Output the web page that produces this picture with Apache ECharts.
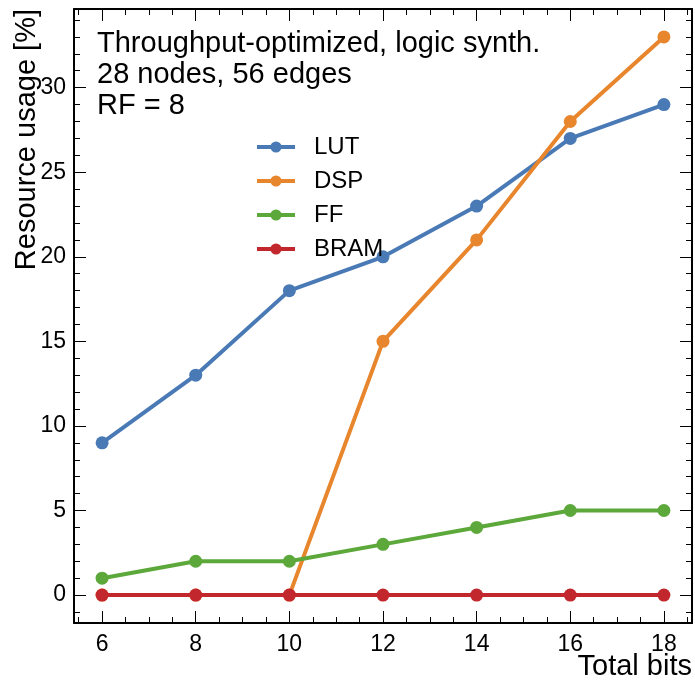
<!DOCTYPE html>
<html><head><meta charset="utf-8">
<script src="https://cdn.jsdelivr.net/npm/echarts@6/dist/echarts.min.js"></script>
<style>html,body{margin:0;padding:0;background:#fff}#c{width:695px;height:681px}</style>
</head><body><div id="c"></div>
<script>
const totalBits = [6, 8, 10, 12, 14, 16, 18];
const lut = [9, 13, 18, 20, 23, 27, 29];
const dsp = [0, 0, 0, 15, 21, 28, 33];
const ff = [1, 2, 2, 3, 4, 5, 5];
const bram = [0, 0, 0, 0, 0, 0, 0];
const xMajor = [6, 8, 10, 12, 14, 16, 18];
const xMinor = [5.5, 6.5, 7, 7.5, 8.5, 9, 9.5, 10.5, 11, 11.5, 12.5, 13, 13.5, 14.5, 15, 15.5, 16.5, 17, 17.5, 18.5];
const yMajor = [0, 5, 10, 15, 20, 25, 30];
const yMinor = [-1, 1, 2, 3, 4, 6, 7, 8, 9, 11, 12, 13, 14, 16, 17, 18, 19, 21, 22, 23, 24, 26, 27, 28, 29, 31, 32, 33, 34];
const annotation = ['Throughput-optimized, logic synth.', '28 nodes, 56 edges', 'RF = 8'];

const FONT = 'Liberation Sans, Arial, Helvetica, sans-serif';
const colors = ['#4a7ab5', '#e8862e', '#5ca83a', '#c3272e'];
const XMIN = 5.4, XMAX = 18.6, YMIN = -1.65, YMAX = 34.65;

function xAx(pos, vals, len, labels, line) {
  return {
    type: 'value', position: pos, min: XMIN, max: XMAX,
    axisLine: { show: line, onZero: false, lineStyle: { color: '#000', width: 2 } },
    axisTick: { show: true, inside: true, length: len, customValues: vals, lineStyle: { color: '#000', width: 1 } },
    axisLabel: labels ? { show: true, customValues: vals, fontSize: 23, color: '#000', fontFamily: FONT, margin: 10 } : { show: false },
    splitLine: { show: false }
  };
}
function yAx(pos, vals, len, labels, line) {
  return {
    type: 'value', position: pos, min: YMIN, max: YMAX,
    axisLine: { show: line, onZero: false, lineStyle: { color: '#000', width: 2 } },
    axisTick: { show: true, inside: true, length: len, customValues: vals, lineStyle: { color: '#000', width: 1 } },
    axisLabel: labels ? { show: true, customValues: vals, fontSize: 23, color: '#000', fontFamily: FONT, margin: 8 } : { show: false },
    splitLine: { show: false }
  };
}

const names = ['LUT', 'DSP', 'FF', 'BRAM'];
const vals = [lut, dsp, ff, bram];
const series = names.map((n, i) => ({
  name: n, type: 'line', xAxisIndex: 0, yAxisIndex: 0,
  data: totalBits.map((x, j) => [x, vals[i][j]]),
  symbol: 'circle', symbolSize: 13, showSymbol: true,
  lineStyle: { color: colors[i], width: 4 },
  itemStyle: { color: colors[i] },
  z: 2 + i, animation: false
}));

const chart = echarts.init(document.getElementById('c'), null, { renderer: 'canvas' });
chart.setOption({
  animation: false,
  grid: { left: 74, right: 3, top: 9, bottom: 58, containLabel: false },
  xAxis: [xAx('bottom', xMajor, 12, true, true), xAx('bottom', xMinor, 6, false, false),
          xAx('top', xMajor, 12, false, true), xAx('top', xMinor, 6, false, false)],
  yAxis: [yAx('left', yMajor, 12, true, true), yAx('left', yMinor, 6, false, false),
          yAx('right', yMajor, 12, false, true), yAx('right', yMinor, 6, false, false)],
  legend: {
    data: names, orient: 'vertical', left: 250, top: 130,
    itemWidth: 38, itemHeight: 14, itemGap: 10,
    lineStyle: { width: 4 },
    textStyle: { fontSize: 24, color: '#000', fontFamily: FONT, lineHeight: 24, padding: [0, 0, 0, 14] }
  },
  graphic: [
    { type: 'text', left: 97, top: 28, style: { text: annotation.join('\n'), font: '29px ' + FONT, lineHeight: 31, fill: '#000' } },
    { type: 'text', x: 27, y: 9, rotation: Math.PI / 2, style: { text: 'Resource usage [%]', font: '29px ' + FONT, fill: '#000', align: 'right', verticalAlign: 'middle' } },
    { type: 'text', x: 692, y: 667, style: { text: 'Total bits', font: '29px ' + FONT, fill: '#000', align: 'right', verticalAlign: 'middle' } }
  ],
  series: series
});
</script></body></html>
